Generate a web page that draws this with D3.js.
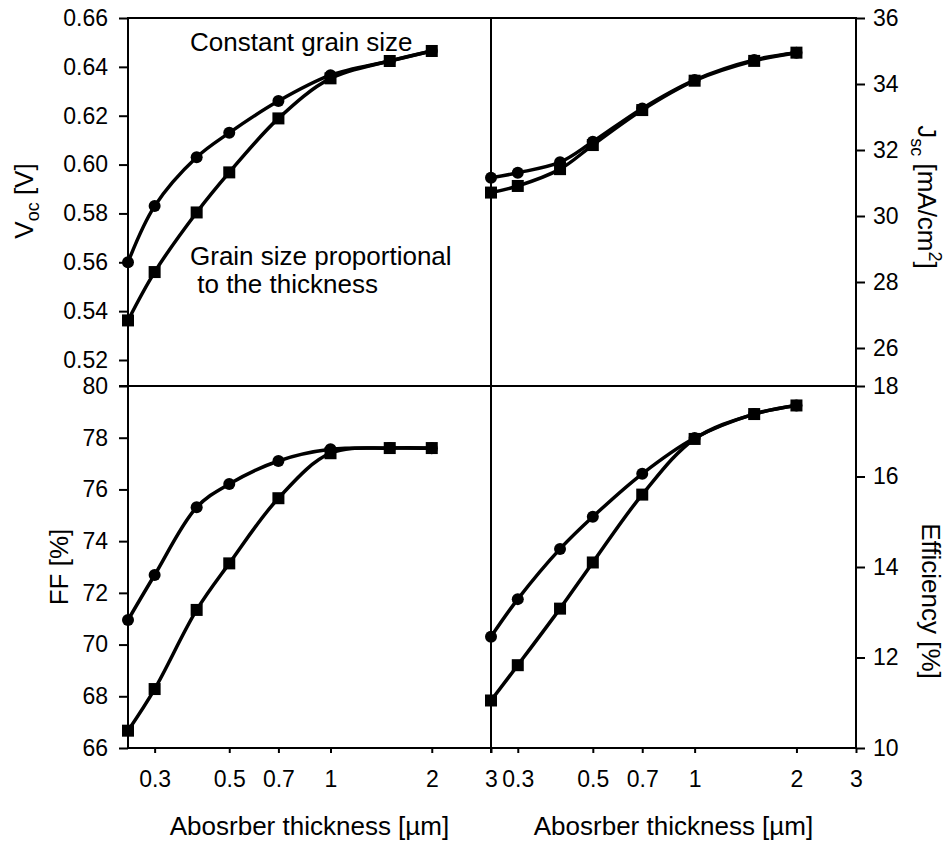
<!DOCTYPE html>
<html>
<head>
<meta charset="utf-8">
<script src="https://cdn.jsdelivr.net/npm/d3@7"></script>
<style>
  html, body { margin: 0; padding: 0; background: #fff; }
  svg { display: block; }
  text { font-family: "Liberation Sans", Arial, sans-serif; fill: #000; }
</style>
</head>
<body>
<svg id="chart" width="946" height="843"></svg>
<script>
// Absorber thickness (µm)
const thickness = [0.25, 0.3, 0.4, 0.5, 0.7, 1, 1.5, 2];
const xTicks = [0.3, 0.5, 0.7, 1, 2, 3];

// Constant grain size (circles)
const vocConst = [0.560, 0.583, 0.603, 0.613, 0.626, 0.6366, 0.6424, 0.6465];
const jscConst = [31.16, 31.31, 31.63, 32.25, 33.26, 34.12, 34.73, 34.95];
const ffConst  = [70.95, 72.69, 75.31, 76.21, 77.10, 77.55, 77.60, 77.59];
const effConst = [12.46, 13.29, 14.40, 15.11, 16.06, 16.85, 17.38, 17.57];

// Grain size proportional to the thickness (squares)
const vocProp = [0.5362, 0.556, 0.5804, 0.5968, 0.6189, 0.6353, 0.6424, 0.6465];
const jscProp = [30.71, 30.91, 31.42, 32.15, 33.21, 34.10, 34.70, 34.95];
const ffProp  = [66.67, 68.28, 71.34, 73.14, 75.66, 77.40, 77.60, 77.60];
const effProp = [11.05, 11.83, 13.08, 14.10, 15.60, 16.83, 17.38, 17.57];

// Y tick values
const vocTicks = [0.52, 0.54, 0.56, 0.58, 0.60, 0.62, 0.64, 0.66];
const jscTicks = [26, 28, 30, 32, 34, 36];
const ffTicks  = [66, 68, 70, 72, 74, 76, 78, 80];
const effTicks = [10, 12, 14, 16, 18];

const svg = d3.select("#chart");

// Frame geometry
const L = 128, M = 491, R = 856, T = 18, H = 386, B = 748;

const xLeft  = d3.scaleLog().domain([0.25, 3]).range([L, M]);
const xRight = d3.scaleLog().domain([0.25, 3]).range([M, R]);

const yVoc = d3.scaleLinear().domain([0.52, 0.66]).range([360, T]);
const yJsc = d3.scaleLinear().domain([26, 36]).range([348, T]);
const yFF  = d3.scaleLinear().domain([66, 80]).range([B, H]);
const yEff = d3.scaleLinear().domain([10, 18]).range([B, H]);

const tickFont = 23;
const titleFont = 26;

function styleAxis(g) {
  g.select(".domain").remove();
  g.selectAll(".tick line").attr("stroke", "#000").attr("stroke-width", 2);
  g.selectAll(".tick text").attr("font-size", tickFont)
    .attr("font-family", '"Liberation Sans", Arial, sans-serif');
}

// Left y axes
svg.append("g").attr("transform", `translate(${L},0)`)
  .call(d3.axisLeft(yVoc).tickValues(vocTicks).tickFormat(d3.format(".2f")).tickSize(9).tickPadding(11))
  .call(styleAxis);
svg.append("g").attr("transform", `translate(${L},0)`)
  .call(d3.axisLeft(yFF).tickValues(ffTicks).tickFormat(d3.format("d")).tickSize(9).tickPadding(11))
  .call(styleAxis);

// Right y axes
svg.append("g").attr("transform", `translate(${R},0)`)
  .call(d3.axisRight(yJsc).tickValues(jscTicks).tickFormat(d3.format("d")).tickSize(9).tickPadding(8))
  .call(styleAxis);
svg.append("g").attr("transform", `translate(${R},0)`)
  .call(d3.axisRight(yEff).tickValues(effTicks).tickFormat(d3.format("d")).tickSize(9).tickPadding(8))
  .call(styleAxis);

// Bottom x axes
const fmtX = d => String(d);
svg.append("g").attr("transform", `translate(0,${B})`)
  .call(d3.axisBottom(xLeft).tickValues(xTicks).tickFormat(fmtX).tickSize(5).tickPadding(18))
  .call(styleAxis);
svg.append("g").attr("transform", `translate(0,${B})`)
  .call(d3.axisBottom(xRight).tickValues(xTicks).tickFormat(fmtX).tickSize(5).tickPadding(18))
  .call(styleAxis);

// Frame and panel dividers
const frame = svg.append("g").attr("stroke", "#000").attr("stroke-width", 2).attr("fill", "none");
frame.append("rect").attr("x", L).attr("y", T).attr("width", R - L).attr("height", B - T);
frame.append("line").attr("x1", L).attr("x2", R).attr("y1", H).attr("y2", H);
frame.append("line").attr("x1", M).attr("x2", M).attr("y1", T).attr("y2", B + 5);
frame.append("line").attr("x1", L - 9).attr("x2", L).attr("y1", H).attr("y2", H);

// Series drawing
const line = (x, y) => d3.line().x((d, i) => x(thickness[i])).y(d => y(d)).curve(d3.curveCatmullRom.alpha(0.5));

function drawSeries(x, y, values, marker) {
  const g = svg.append("g");
  g.append("path").datum(values).attr("d", line(x, y))
    .attr("fill", "none").attr("stroke", "#000").attr("stroke-width", 3.5);
  if (marker === "circle") {
    g.selectAll("circle").data(values).join("circle")
      .attr("cx", (d, i) => x(thickness[i])).attr("cy", d => y(d)).attr("r", 6).attr("fill", "#000");
  } else {
    const s = 12;
    g.selectAll("rect").data(values).join("rect")
      .attr("x", (d, i) => x(thickness[i]) - s / 2).attr("y", d => y(d) - s / 2)
      .attr("width", s).attr("height", s).attr("fill", "#000");
  }
}

drawSeries(xLeft, yVoc, vocConst, "circle");
drawSeries(xLeft, yVoc, vocProp, "square");
drawSeries(xRight, yJsc, jscConst, "circle");
drawSeries(xRight, yJsc, jscProp, "square");
drawSeries(xLeft, yFF, ffConst, "circle");
drawSeries(xLeft, yFF, ffProp, "square");
drawSeries(xRight, yEff, effProp, "square");
drawSeries(xRight, yEff, effConst, "circle");

// Annotations
svg.append("text").attr("x", 190).attr("y", 51).attr("font-size", titleFont).text("Constant grain size");
svg.append("text").attr("x", 190).attr("y", 265).attr("font-size", titleFont).text("Grain size proportional");
svg.append("text").attr("x", 190).attr("y", 293).attr("font-size", titleFont).attr("xml:space", "preserve").text(" to the thickness");

// Axis titles
svg.append("text").attr("x", (L + M) / 2).attr("y", 835).attr("text-anchor", "middle")
  .attr("font-size", titleFont).text("Abosrber thickness [µm]");
svg.append("text").attr("x", (M + R) / 2).attr("y", 835).attr("text-anchor", "middle")
  .attr("font-size", titleFont).text("Abosrber thickness [µm]");

const voc = svg.append("text").attr("transform", "translate(33,201) rotate(-90)")
  .attr("text-anchor", "middle").attr("font-size", titleFont);
voc.append("tspan").text("V");
voc.append("tspan").attr("font-size", 18).attr("dy", 6).text("oc");
voc.append("tspan").attr("dy", -6).text(" [V]");

svg.append("text").attr("transform", "translate(68,567) rotate(-90)")
  .attr("text-anchor", "middle").attr("font-size", titleFont).text("FF [%]");

const jsc = svg.append("text").attr("transform", "translate(918,197) rotate(90)")
  .attr("text-anchor", "middle").attr("font-size", titleFont);
jsc.append("tspan").text("J");
jsc.append("tspan").attr("font-size", 18).attr("dy", 7).text("sc");
jsc.append("tspan").attr("dy", -7).text(" [mA/cm");
jsc.append("tspan").attr("font-size", 18).attr("dy", -11).text("2");
jsc.append("tspan").attr("dy", 11).text("]");

svg.append("text").attr("transform", "translate(922,601) rotate(90)")
  .attr("text-anchor", "middle").attr("font-size", titleFont).text("Efficiency [%]");
</script>
</body>
</html>
